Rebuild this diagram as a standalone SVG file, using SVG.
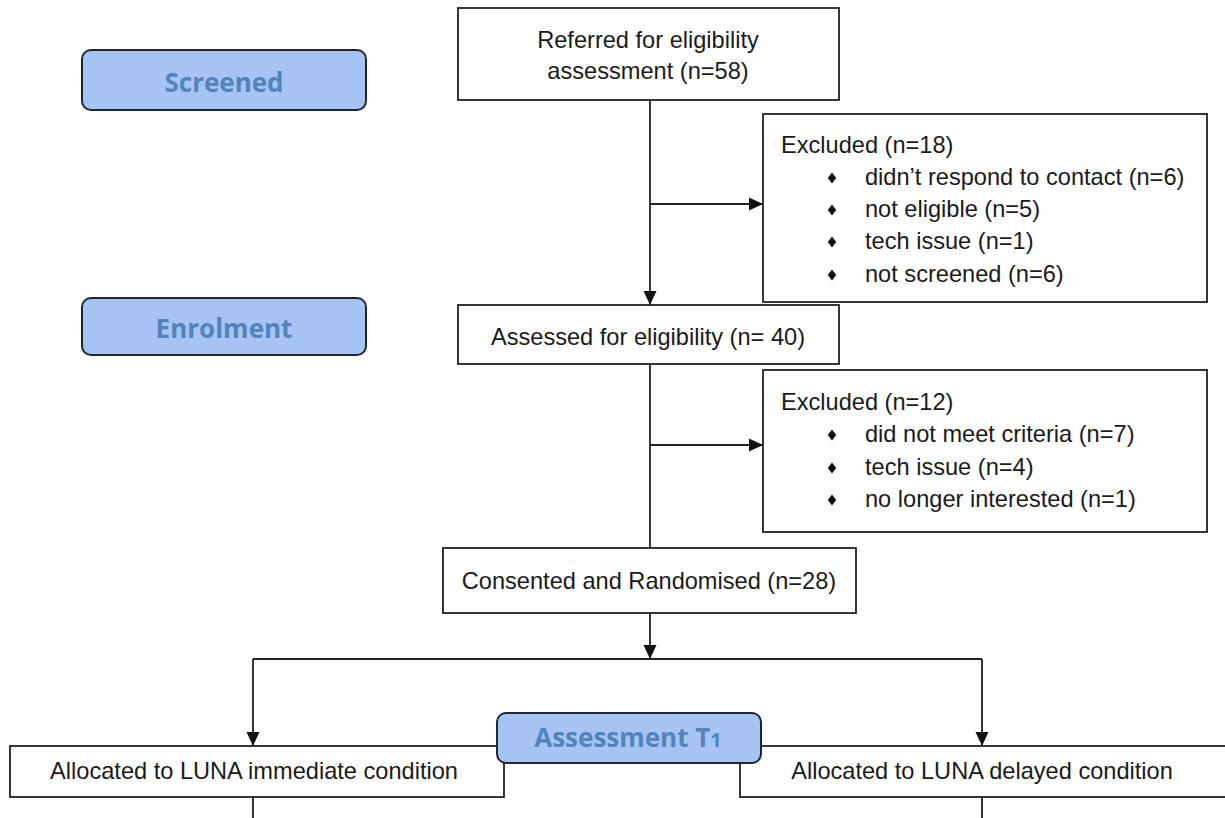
<svg xmlns="http://www.w3.org/2000/svg" width="1225" height="818" viewBox="0 0 1225 818">
<style>
.box{fill:#fff;stroke:#222;stroke-width:1.8}
.stage{fill:#a6c4f3;stroke:#1e2633;stroke-width:2}
.st{font-family:"Open Sans","Liberation Sans",sans-serif;font-weight:bold;font-size:26px;fill:#5482ba;text-anchor:middle}
.t{font-family:"Liberation Sans",Arial,sans-serif;font-size:23.6px;fill:#1a1a1a}
.c{text-anchor:middle}
.ln{fill:none;stroke:#222;stroke-width:1.8}
</style>
<defs>
<marker id="ah" markerWidth="15" markerHeight="15" refX="14" refY="7" orient="auto" markerUnits="userSpaceOnUse">
<path d="M0,0.5 L14,7 L0,13.5 z" fill="#111"/>
</marker>
<path id="dia" d="M0,-5.5 L4.2,0 L0,5.5 L-4.2,0 z" fill="#111"/>
</defs>

<g id="connectors">
<path class="ln" d="M650,100 V305" marker-end="url(#ah)"/>
<path class="ln" d="M650,204 H763" marker-end="url(#ah)"/>
<path class="ln" d="M650,364 V548"/>
<path class="ln" d="M650,445 H763" marker-end="url(#ah)"/>
<path class="ln" d="M650,613 V659" marker-end="url(#ah)"/>
<path class="ln" d="M253,659 H982"/>
<path class="ln" d="M253,659 V746" marker-end="url(#ah)"/>
<path class="ln" d="M982,659 V746" marker-end="url(#ah)"/>
<path class="ln" d="M253,797 V818"/>
<path class="ln" d="M982,797 V818"/>
</g>

<g id="screened">
<rect class="stage" x="82" y="50" width="284" height="60" rx="9"/>
<text class="st" x="224" y="92">Screened</text>
</g>

<g id="enrolment">
<rect class="stage" x="82" y="298" width="284" height="57" rx="9"/>
<text class="st" x="224" y="338">Enrolment</text>
</g>

<g id="referred">
<rect class="box" x="458" y="8" width="381" height="92"/>
<text class="t c" x="648" y="48">Referred for eligibility</text>
<text class="t c" x="648" y="79">assessment (n=58)</text>
</g>

<g id="excluded1">
<rect class="box" x="763" y="114" width="444" height="188"/>
<text class="t" x="781" y="153">Excluded (n=18)</text>
<use href="#dia" x="832" y="178"/>
<text class="t" x="865" y="185">didn’t respond to contact (n=6)</text>
<use href="#dia" x="832" y="210"/>
<text class="t" x="865" y="217">not eligible (n=5)</text>
<use href="#dia" x="832" y="242"/>
<text class="t" x="865" y="249">tech issue (n=1)</text>
<use href="#dia" x="832" y="275"/>
<text class="t" x="865" y="282">not screened (n=6)</text>
</g>

<g id="assessed">
<rect class="box" x="458" y="305" width="381" height="59"/>
<text class="t c" x="648" y="345">Assessed for eligibility (n= 40)</text>
</g>

<g id="excluded2">
<rect class="box" x="763" y="370" width="444" height="162"/>
<text class="t" x="781" y="410">Excluded (n=12)</text>
<use href="#dia" x="832" y="435"/>
<text class="t" x="865" y="442">did not meet criteria  (n=7)</text>
<use href="#dia" x="832" y="468"/>
<text class="t" x="865" y="475">tech issue (n=4)</text>
<use href="#dia" x="832" y="500"/>
<text class="t" x="865" y="507">no longer interested (n=1)</text>
</g>

<g id="consented">
<rect class="box" x="443" y="548" width="413" height="65"/>
<text class="t c" x="649" y="589">Consented and Randomised (n=28)</text>
</g>

<g id="immediate">
<rect class="box" x="10" y="746" width="494" height="51"/>
<text class="t c" x="254" y="779">Allocated to LUNA immediate condition</text>
</g>

<g id="delayed">
<rect class="box" x="740" y="746" width="500" height="51"/>
<text class="t c" x="982" y="779">Allocated to LUNA delayed condition</text>
</g>

<g id="assessmentT1">
<rect class="stage" x="497" y="713" width="264" height="50" rx="9"/>
<text class="st" x="628" y="747">Assessment T<tspan font-size="20">1</tspan></text>
</g>
</svg>
